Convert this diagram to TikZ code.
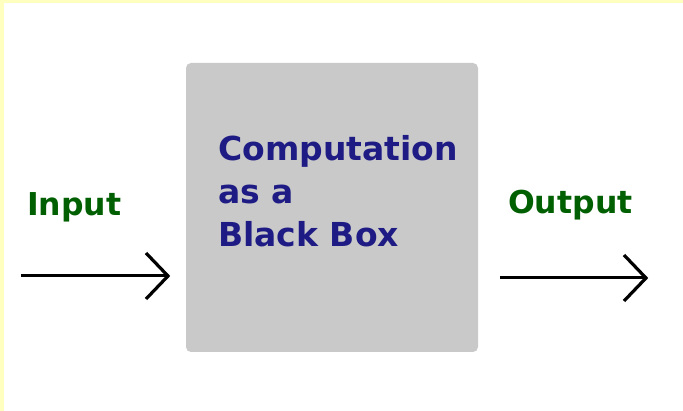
\documentclass[tikz,border=0pt]{standalone}
\usepackage{fontspec}
\setmainfont{DejaVu Sans}
\definecolor{bordery}{HTML}{FFFFC0}
\definecolor{boxgray}{HTML}{C9C9C9}
\definecolor{navytxt}{HTML}{1E1C84}
\definecolor{greentxt}{HTML}{005F00}
\tikzset{
  bbox/.style={fill=boxgray, draw=none, rounded corners=5pt, inner sep=0pt},
  boxtext/.style={anchor=base west, inner sep=0pt, text=navytxt, font=\fontsize{33}{43}\selectfont\bfseries},
  label/.style={anchor=base west, inner sep=0pt, text=greentxt, font=\fontsize{31.5}{38}\selectfont\bfseries},
  flow/.style={line width=3pt},
  chev/.style={line width=3.2pt, line join=miter}
}
\begin{document}
\begin{tikzpicture}[x=1pt, y=-1pt]
  \useasboundingbox (0,0) rectangle (683,411);
  \fill[bordery] (0,0) rectangle (683,411);
  \fill[white] (4,3) rectangle (683,411);
  \path[bbox] (186,63) rectangle (478,352);
  \node[boxtext] (l1) at (218,161) {Computation};
  \node[boxtext] (l2) at (218,204) {as a};
  \node[boxtext] (l3) at (218,247) {Black Box};
  \node[label] (inp) at (27,216) {Input};
  \node[label] (outp) at (508,214) {Output};
  \coordinate (ia) at (21,276);
  \coordinate (ib) at (168,276);
  \coordinate (oa) at (500,278);
  \coordinate (ob) at (646,278);
  \draw[flow] (ia) -- (ib);
  \draw[chev] (ib) ++(-22,-23) -- (ib) -- ++(-22,23);
  \draw[flow] (oa) -- (ob);
  \draw[chev] (ob) ++(-22,-23) -- (ob) -- ++(-22,23);
\end{tikzpicture}
\end{document}
